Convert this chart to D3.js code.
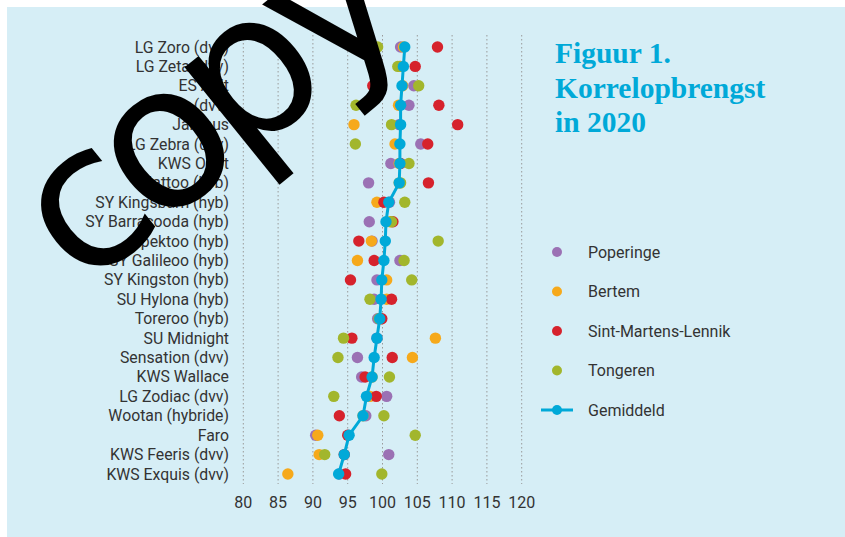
<!DOCTYPE html>
<html>
<head>
<meta charset="utf-8">
<script src="https://cdn.jsdelivr.net/npm/d3@7"></script>
<style>
  body { margin: 0; background: #fff; }
  svg { display: block; }
</style>
</head>
<body>
<div id="chart"></div>
<script>
// rassen (van boven naar onder)
var rassen = ["LG Zoro (dvv)", "LG Zeta (dvv)", "ES Abit", "Lauru (dvv)", "Janthus", "LG Zebra (dvv)",
  "KWS Orbit", "Mattoo (hyb)", "SY Kingsbarn (hyb)", "SY Barracooda (hyb)", "Spektoo (hyb)",
  "SY Galileoo (hyb)", "SY Kingston (hyb)", "SU Hylona (hyb)", "Toreroo (hyb)", "SU Midnight",
  "Sensation (dvv)", "KWS Wallace", "LG Zodiac (dvv)", "Wootan (hybride)", "Faro",
  "KWS Feeris (dvv)", "KWS Exquis (dvv)"];

// relatieve opbrengst per proefplaats
var poperinge = [102.6, 102.5, 104.5, 103.8, 102.4, 105.5, 101.2, 98.0, 101.0, 98.1, 98.5, 102.5,
  99.2, 98.8, 99.3, 99.2, 96.4, 97.0, 100.6, 97.6, 90.4, 100.9, 93.8];
var bertem = [103.0, 102.6, 102.9, 102.3, 95.9, 101.8, 102.4, 102.4, 99.2, 101.1, 98.4, 96.4,
  100.6, 100.6, 99.7, 107.6, 104.3, 98.5, 98.2, 97.2, 90.7, 90.9, 86.4];
var sintMartens = [107.9, 104.7, 98.6, 108.1, 110.8, 106.5, 102.6, 106.6, 100.2, 101.5, 96.6, 98.8,
  95.4, 101.3, 99.9, 95.6, 101.4, 97.5, 99.1, 93.8, 95.0, 94.5, 94.7];
var tongeren = [99.3, 102.2, 105.2, 96.2, 101.3, 96.1, 103.8, 102.6, 103.2, 101.3, 108.0, 103.1,
  104.2, 98.2, 99.5, 94.4, 93.6, 101.0, 93.0, 100.2, 104.7, 91.7, 99.9];
var gemiddeld = [103.2, 103.0, 102.8, 102.6, 102.6, 102.5, 102.5, 102.4, 100.9, 100.5, 100.4, 100.2,
  99.9, 99.8, 99.6, 99.2, 98.8, 98.5, 97.7, 97.2, 95.2, 94.5, 93.7];

var ticks = [80, 85, 90, 95, 100, 105, 110, 115, 120];

var reeksen = [
  { naam: "Poperinge", waarden: poperinge, kleur: "#9b71b4" },
  { naam: "Bertem", waarden: bertem, kleur: "#f6a91b" },
  { naam: "Sint-Martens-Lennik", waarden: sintMartens, kleur: "#d6222c" },
  { naam: "Tongeren", waarden: tongeren, kleur: "#a2b62c" }
];
var blauw = "#00a9d8";

var W = 845, H = 537;
var svg = d3.select("#chart").append("svg").attr("width", W).attr("height", H);

svg.append("rect").attr("x", 7).attr("y", 7).attr("width", W - 7).attr("height", H - 7)
  .attr("fill", "#d6eef6");

var x = d3.scaleLinear().domain([80, 120]).range([243.3, 521.7]);
var y = d3.scalePoint().domain(rassen).range([47, 474]);

// rasterlijnen
svg.append("g").selectAll("line").data(ticks).enter().append("line")
  .attr("x1", function (d) { return x(d); }).attr("x2", function (d) { return x(d); })
  .attr("y1", 35).attr("y2", 484)
  .attr("stroke", "#9a9a9a").attr("stroke-width", 1).attr("stroke-dasharray", "1.5,2.5");

// x-as labels
svg.append("g").selectAll("text").data(ticks).enter().append("text")
  .attr("x", function (d) { return x(d); }).attr("y", 508)
  .attr("text-anchor", "middle")
  .style("font-family", "Roboto").style("font-size", "16px").attr("fill", "#333")
  .text(function (d) { return d; });

// raslabels
svg.append("g").selectAll("text").data(rassen).enter().append("text")
  .attr("x", 229).attr("y", function (d) { return y(d); }).attr("dy", "0.35em")
  .attr("text-anchor", "end")
  .style("font-family", "Roboto").style("font-size", "15.8px").attr("fill", "#333")
  .text(function (d) { return d; });

// punten per proefplaats
reeksen.forEach(function (r) {
  svg.append("g").selectAll("circle").data(r.waarden).enter().append("circle")
    .attr("cx", function (d) { return x(d); })
    .attr("cy", function (d, i) { return y(rassen[i]); })
    .attr("r", 5.7).attr("fill", r.kleur);
});

// gemiddelde lijn
var lijn = d3.line()
  .x(function (d) { return x(d); })
  .y(function (d, i) { return y(rassen[i]); });
svg.append("path").datum(gemiddeld).attr("d", lijn)
  .attr("fill", "none").attr("stroke", blauw).attr("stroke-width", 3);
svg.append("g").selectAll("circle").data(gemiddeld).enter().append("circle")
  .attr("cx", function (d) { return x(d); })
  .attr("cy", function (d, i) { return y(rassen[i]); })
  .attr("r", 5.7).attr("fill", blauw);

// titel
var titel = svg.append("text").attr("x", 555).attr("y", 63)
  .style("font-family", "Liberation Serif").style("font-weight", "bold")
  .style("font-size", "29.5px").attr("fill", blauw);
["Figuur 1.", "Korrelopbrengst", "in 2020"].forEach(function (t, i) {
  titel.append("tspan").attr("x", 555).attr("dy", i === 0 ? 0 : 34.5).text(t);
});

// legende
var legY = [252, 291.5, 331, 370.5];
var leg = svg.append("g");
reeksen.forEach(function (r, i) {
  leg.append("circle").attr("cx", 557).attr("cy", legY[i]).attr("r", 5).attr("fill", r.kleur);
  leg.append("text").attr("x", 588).attr("y", legY[i]).attr("dy", "0.35em")
    .style("font-family", "Roboto").style("font-size", "16px").attr("fill", "#333").text(r.naam);
});
leg.append("line").attr("x1", 541).attr("x2", 573).attr("y1", 410).attr("y2", 410)
  .attr("stroke", blauw).attr("stroke-width", 3);
leg.append("circle").attr("cx", 557).attr("cy", 410).attr("r", 5).attr("fill", blauw);
leg.append("text").attr("x", 588).attr("y", 410).attr("dy", "0.35em")
  .style("font-family", "Roboto").style("font-size", "16px").attr("fill", "#333").text("Gemiddeld");

// watermerk
svg.append("text").attr("transform", "translate(82,291) rotate(-39)")
  .style("font-family", "DejaVu Sans").style("font-size", "200px")
  .style("letter-spacing", "-15px")
  .attr("fill", "#000")
  .text("copy");
</script>
</body>
</html>
